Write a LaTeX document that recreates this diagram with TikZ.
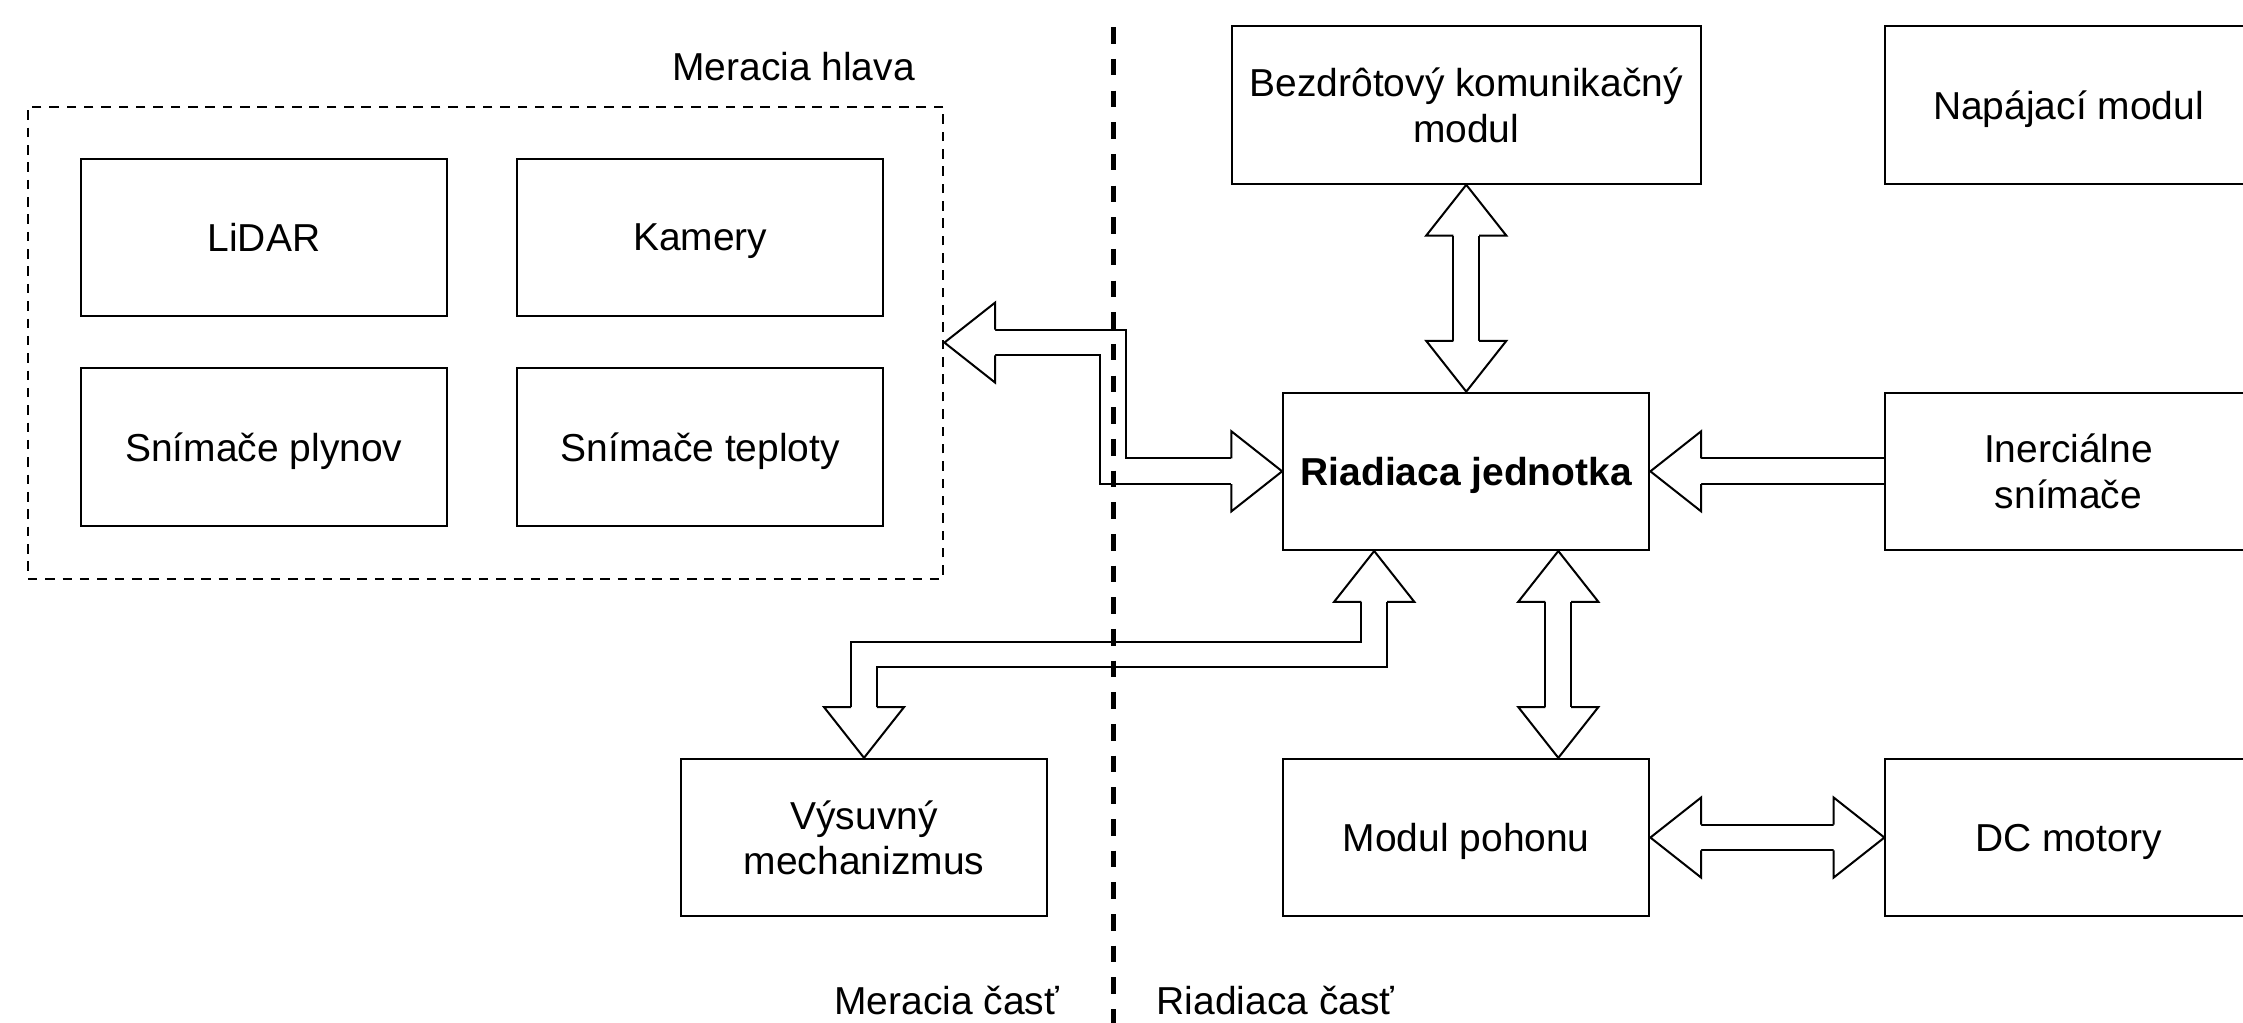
\documentclass[tikz,border=0pt]{standalone}
\usepackage{fontspec}
\setmainfont{Liberation Sans}
\usetikzlibrary{positioning, calc}

% hollow arrow head: tip point, direction
\newcommand{\hollowhead}[2]{%
    \fill[white, shift={(#1)}, rotate=#2] (0,0) -- (-0.71,0.56) -- (-0.71,-0.56) -- cycle;
    \draw[shift={(#1)}, rotate=#2] (-0.71,0.18) -- (-0.71,0.56) -- (0,0) -- (-0.71,-0.56) -- (-0.71,-0.18);
}

\begin{document}
\begin{tikzpicture}[
            line width = 0.8pt, % line style
            node distance = 5.12cm, % distance between nodes
            every node/.style = {font = \fontsize{15.5}{18.2}\selectfont},
            shaft/.style = {double = white, double distance = 9.44pt,
                            shorten < = 0.71cm, shorten > = 0.71cm},
            divider/.style = {line width = 1.8pt, dash pattern = on 6.6pt off 6pt},
            lbl/.style = {inner sep = 0pt}
        ]

        \tikzstyle{block}=[
            draw = black,
            fill = white,
            minimum width = 5.12cm,
            minimum height = 2.2cm,
            align = center,
            text depth = 0pt
        ]

    \useasboundingbox (0,0) rectangle (31.36,14.3);
    \clip (0,0) rectangle (31.36,14.3);

    % meracia hlava
    \node[draw, dash pattern = on 3.8pt off 3.1pt, minimum width = 12.8cm,
          minimum height = 6.6cm] (hlava) at (6.79,9.51) {};
    \node[lbl, anchor = base east] (hlavalbl) at ($(hlava.north east)+(-0.4,0.35)$) {Meracia hlava};

	\node[block] (lidar) at (3.69,10.98) {LiDAR};
	\node[block] (kamery) [right of=lidar, node distance=6.1cm] {Kamery};
	\node[block] (plyn) [below of=lidar, node distance=2.93cm] {Snímače plynov};
	\node[block] (teplota) [right of=plyn, node distance=6.1cm] {Snímače teploty};

    % riadiaca cast
	\node[block] (riadiaca) at (20.5,7.71) {\bfseries Riadiaca jednotka};
	\node[block, minimum width=6.56cm] (bezdrot) [above of=riadiaca] {Bezdrôtový komunikačný\\modul};
	\node[block] (napajaci) [right of=bezdrot, node distance=8.42cm] {Napájací modul};
	\node[block] (inerc) [right of=riadiaca, node distance=8.42cm] {Inerciálne\\snímače};
	\node[block] (pohon) [below of=riadiaca] {Modul pohonu};
	\node[block] (motory) [right of=pohon, node distance=8.42cm] {DC motory};
	\node[block] (vysuv) [left of=pohon, node distance=8.42cm] {Výsuvný\\mechanizmus};

    \coordinate (deltop) at (15.57,13.92);
    \coordinate (delbot) at (15.57,0);
    \node[lbl, anchor = base east] (merpart) at ($(delbot)+(-0.75,0.12)$) {Meracia časť};
    \node[lbl, anchor = base west] (riadpart) at ($(delbot)+(0.59,0.12)$) {Riadiaca časť};

    % spojenia
	\draw[shaft] (bezdrot.south) -- (riadiaca.north);
	\hollowhead{bezdrot.south}{90}
	\hollowhead{riadiaca.north}{-90}

	\draw[shaft, shorten < = 0pt] (inerc.west) -- (riadiaca.east);
	\hollowhead{riadiaca.east}{180}

	\draw[shaft] (pohon.east) -- (motory.west);
	\hollowhead{pohon.east}{180}
	\hollowhead{motory.west}{0}

    \coordinate (rjse) at ($(riadiaca.south)!0.5!(riadiaca.south east)$);
    \coordinate (pone) at ($(pohon.north)!0.5!(pohon.north east)$);
	\draw[shaft] (rjse) -- (pone);
	\hollowhead{rjse}{90}
	\hollowhead{pone}{-90}

    \coordinate (rjsw) at ($(riadiaca.south west)!0.5!(riadiaca.south)$);
	\draw[shaft] (rjsw) |- ($(rjsw)!0.5!(vysuv.north)$) -| (vysuv.north);
	\hollowhead{rjsw}{90}
	\hollowhead{vysuv.north}{-90}

	\draw[shaft] (hlava.east) -| ($(hlava.east)!0.5!(riadiaca.west)$) |- (riadiaca.west);
	\hollowhead{hlava.east}{180}
	\hollowhead{riadiaca.west}{0}

    \draw[divider] (deltop) -- (delbot);

\end{tikzpicture}
\end{document}
